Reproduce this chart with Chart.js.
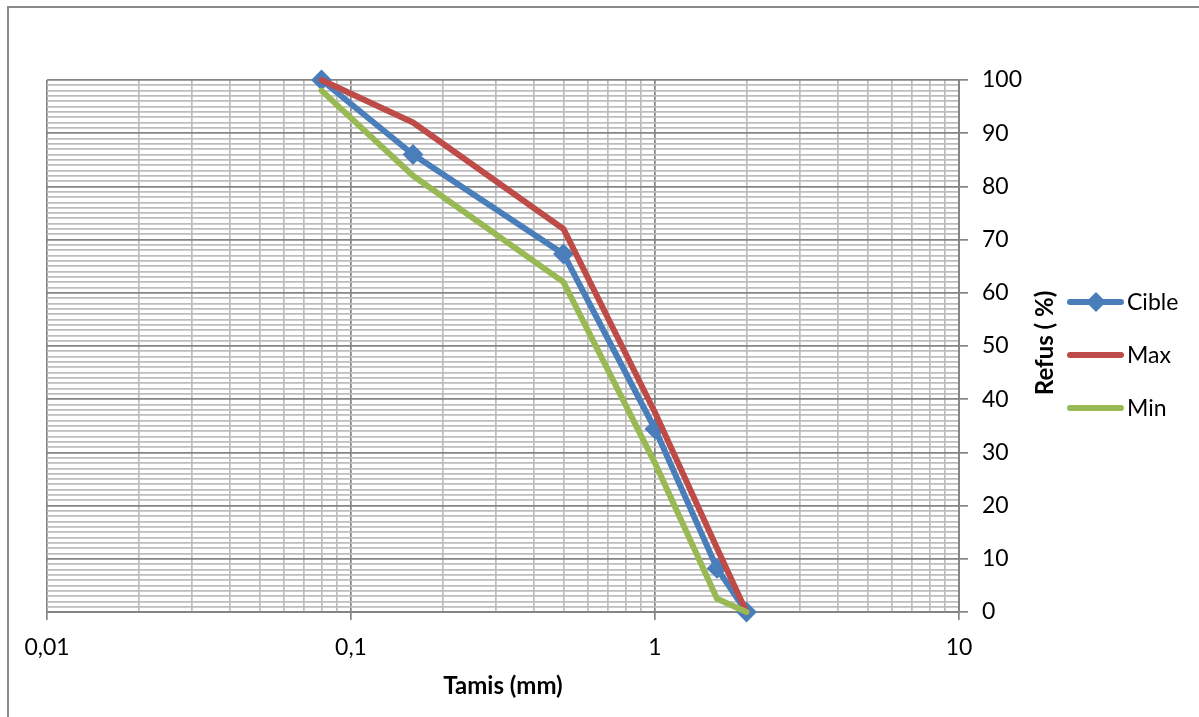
<!DOCTYPE html>
<html>
<head>
<meta charset="utf-8">
<title>Tamis / Refus</title>
<script src="https://cdn.jsdelivr.net/npm/chart.js@4"></script>
<style>
  html, body { margin: 0; padding: 0; background: #fff; }
  #wrap { position: relative; width: 1199px; height: 717px; }
  canvas { display: block; }
</style>
</head>
<body>
<div id="wrap"><canvas id="chart" width="1199" height="717"></canvas></div>
<script>
// Sieve openings (mm) and cumulative retained (%) for each curve
const sieves = [0.08, 0.16, 0.5, 1, 1.6, 2];
const cible  = [100, 86, 67.3, 34.4, 8.2, 0];
const maxi   = [100, 92, 72, 37.5, 12, 0];
const mini   = [98, 82, 62, 28, 2.5, 0];

const seriesNames  = ['Cible', 'Max', 'Min'];
const seriesColors = ['#4A7EBB', '#BE4B48', '#98B954'];

// Axis ticks: every 1..9 x 10^n on the log axis, every unit on the y axis
const xDecades   = [0.01, 0.1, 1, 10];
const xTickLabels = ['0,01', '0,1', '1', '10'];
const yMax = 100, yLabelStep = 10;

const MAJOR = '#858585';
const MINOR = '#BDBDBD';
const FONT = 'Lato, "Open Sans", sans-serif';

function pts(values) {
  return sieves.map((s, i) => ({ x: s, y: values[i] }));
}
function isDecade(v) {
  return xDecades.some(d => Math.abs(v - d) < d * 1e-6);
}
function xLabel(v) {
  const i = xDecades.findIndex(d => Math.abs(v - d) < d * 1e-6);
  return i >= 0 ? xTickLabels[i] : '';
}

// White page, outer frame, rotated y title and the legend
const decorations = {
  id: 'decorations',
  beforeDraw(chart) {
    const c = chart.ctx;
    c.save();
    c.fillStyle = '#fff';
    c.fillRect(0, 0, chart.width, chart.height);
    c.strokeStyle = '#8a8a8a';
    c.lineWidth = 2;
    c.beginPath();
    c.moveTo(8, chart.height + 5);
    c.lineTo(8, 7);
    c.lineTo(chart.width + 5, 7);
    c.stroke();
    c.restore();
  },
  afterDraw(chart) {
    const c = chart.ctx;
    const area = chart.chartArea;
    c.save();
    // y axis title, reading bottom to top
    c.translate(1045, (area.top + area.bottom) / 2 - 3);
    c.rotate(-Math.PI / 2);
    c.font = 'bold 24px ' + FONT;
    c.fillStyle = '#000';
    c.textAlign = 'center';
    c.textBaseline = 'middle';
    c.fillText('Refus ( %)', 0, 0);
    c.restore();

    // legend
    const ys = [302, 355, 408];
    c.save();
    c.font = '23px ' + FONT;
    c.textBaseline = 'middle';
    c.textAlign = 'left';
    seriesNames.forEach((name, i) => {
      const y = ys[i];
      c.strokeStyle = seriesColors[i];
      c.lineWidth = 6;
      c.lineCap = 'round';
      c.beginPath();
      c.moveTo(1070, y);
      c.lineTo(1121, y);
      c.stroke();
      if (i === 0) {
        const r = 10;
        c.fillStyle = seriesColors[i];
        c.beginPath();
        c.moveTo(1096 - r, y);
        c.lineTo(1096, y - r);
        c.lineTo(1096 + r, y);
        c.lineTo(1096, y + r);
        c.closePath();
        c.fill();
      }
      c.fillStyle = '#000';
      c.fillText(name, 1127, y + 1);
    });
    c.restore();
  }
};

const common = {
  borderWidth: 6,
  borderJoinStyle: 'round',
  borderCapStyle: 'round',
  tension: 0,
  fill: false,
  clip: false
};

new Chart(document.getElementById('chart'), {
  type: 'line',
  data: {
    datasets: [
      Object.assign({}, common, {
        label: seriesNames[0], data: pts(cible), order: 3,
        borderColor: seriesColors[0], backgroundColor: seriesColors[0],
        pointStyle: 'rectRot', pointRadius: 9, pointBorderWidth: 2,
        pointBackgroundColor: seriesColors[0], pointBorderColor: seriesColors[0]
      }),
      Object.assign({}, common, {
        label: seriesNames[1], data: pts(maxi), order: 2,
        borderColor: seriesColors[1], backgroundColor: seriesColors[1],
        pointRadius: 0
      }),
      Object.assign({}, common, {
        label: seriesNames[2], data: pts(mini), order: 1,
        borderColor: seriesColors[2], backgroundColor: seriesColors[2],
        pointRadius: 0
      })
    ]
  },
  options: {
    responsive: false,
    animation: false,
    events: [],
    layout: { padding: { left: 47, top: 80, right: 139, bottom: 0 } },
    plugins: {
      legend: { display: false },
      tooltip: { enabled: false },
      title: { display: false }
    },
    scales: {
      x: {
        type: 'logarithmic',
        position: 'bottom',
        min: xDecades[0],
        max: xDecades[xDecades.length - 1],
        afterBuildTicks(scale) {
          const t = [];
          for (let k = 0; k < xDecades.length - 1; k++) {
            for (let m = 1; m <= 9; m++) t.push({ value: +(m * xDecades[k]).toPrecision(6) });
          }
          t.push({ value: xDecades[xDecades.length - 1] });
          scale.ticks = t;
        },
        afterFit(scale) { scale.height = 105; },
        grid: {
          color: ctx => (ctx.tick && isDecade(ctx.tick.value)) ? MAJOR : MINOR,
          tickColor: ctx => (ctx.tick && isDecade(ctx.tick.value)) ? MAJOR : 'rgba(0,0,0,0)',
          lineWidth: 1.7,
          tickLength: 8,
          drawTicks: true
        },
        border: { display: true, color: MAJOR, width: 2 },
        ticks: {
          autoSkip: false,
          maxRotation: 0,
          minRotation: 0,
          padding: 14,
          color: '#000',
          font: { family: FONT, size: 23 },
          callback: v => xLabel(v)
        },
        title: {
          display: true,
          text: 'Tamis (mm)',
          color: '#000',
          font: { family: FONT, size: 24, weight: 'bold' },
          padding: { top: 0, bottom: 16 }
        }
      },
      y: {
        type: 'linear',
        position: 'right',
        min: 0,
        max: yMax,
        afterBuildTicks(scale) {
          const t = [];
          for (let v = 0; v <= yMax; v++) t.push({ value: v });
          scale.ticks = t;
        },
        afterFit(scale) { scale.width = 101; },
        grid: {
          color: ctx => (ctx.tick && ctx.tick.value % yLabelStep === 0) ? MAJOR : MINOR,
          tickColor: ctx => (ctx.tick && ctx.tick.value % yLabelStep === 0) ? MAJOR : 'rgba(0,0,0,0)',
          lineWidth: 1.7,
          tickLength: 9,
          drawTicks: true
        },
        border: { display: true, color: MAJOR, width: 2 },
        ticks: {
          autoSkip: false,
          padding: 14,
          color: '#000',
          font: { family: FONT, size: 23 },
          callback: v => (v % yLabelStep === 0 ? String(v) : '')
        }
      }
    }
  },
  plugins: [decorations]
});
</script>
</body>
</html>
